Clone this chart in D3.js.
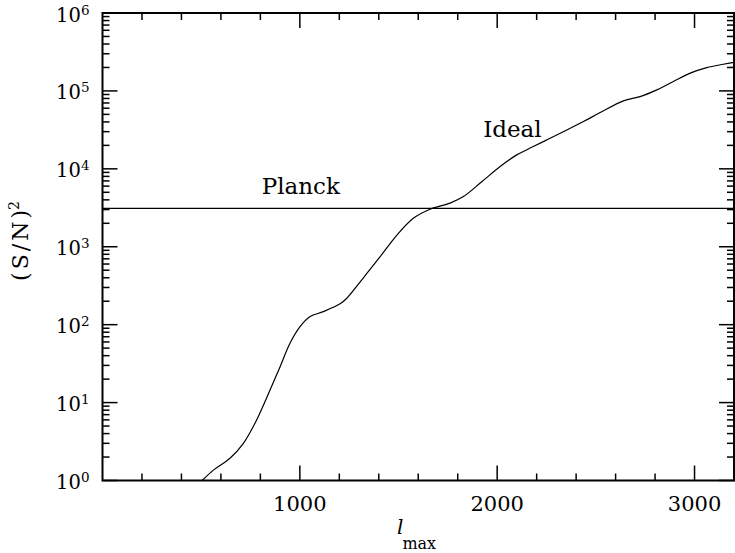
<!DOCTYPE html>
<html>
<head>
<meta charset="utf-8">
<script src="https://cdn.jsdelivr.net/npm/d3@7"></script>
<style>
  body { margin: 0; background: #fff; }
  text { font-family: "DejaVu Serif", serif; fill: #000; }
</style>
</head>
<body>
<svg id="chart"></svg>
<script>
const lmax = [505, 562, 646, 714, 781, 849, 900, 950, 1001, 1052, 1119, 1204, 1238, 1322, 1406, 1491, 1575, 1660, 1761, 1829, 1920, 2015, 2099, 2183, 2268, 2353, 2437, 2522, 2640, 2724, 2809, 2893, 2978, 3062, 3146, 3200];
const snrIdeal = [1, 1.36, 1.93, 3.0, 5.98, 14.5, 28.9, 57.7, 94.2, 127, 147, 185, 218, 400, 740, 1400, 2320, 3030, 3630, 4400, 6760, 10700, 15100, 19300, 24700, 31500, 40400, 52700, 74500, 84500, 103000, 132000, 169000, 199000, 220000, 233000];
const planckLevel = 3100;

const xDomain = [0, 3200];
const xMajorTicks = [1000, 2000, 3000];
const xMinorStep = 200;
const yDecades = [0, 1, 2, 3, 4, 5, 6];

// label anchors in data units
const planckLabel = { text: 'Planck', l: 807, v: 4720 };
const idealLabel = { text: 'Ideal', l: 1929, v: 25900 };

class SnrPlot {
    constructor(_config) {
        this.config = {
            parentElement: _config.parentElement,
            containerWidth: _config.containerWidth || 735,
            containerHeight: _config.containerHeight || 553,
            margin: { top: 13, bottom: 72.5, right: 1, left: 102.5 }
        }
        this.initVis();
    }

    initVis() {
        let vis = this;
        const m = vis.config.margin;
        vis.width = vis.config.containerWidth - m.left - m.right;
        vis.height = vis.config.containerHeight - m.top - m.bottom;

        vis.svg = d3.select(vis.config.parentElement)
            .attr('width', vis.config.containerWidth)
            .attr('height', vis.config.containerHeight);

        vis.chart = vis.svg.append('g')
            .attr('transform', `translate(${m.left},${m.top})`);

        vis.x = d3.scaleLinear().domain(xDomain).range([0, vis.width]);
        vis.y = d3.scaleLog().domain([1, 1e6]).range([vis.height, 0]);

        vis.svg.append('defs').append('clipPath').attr('id', 'plotclip')
            .append('rect').attr('width', vis.width).attr('height', vis.height);

        vis.updateVis();
    }

    updateVis() {
        let vis = this;
        const W = vis.width, H = vis.height;
        const majorLen = 15, minorLen = 7;

        // x ticks: minor every 200, major at the labelled ones
        const xTicks = d3.range(xMinorStep, xDomain[1], xMinorStep);
        const xt = vis.chart.append('g').attr('stroke', '#000').attr('stroke-width', 1.5);
        xTicks.forEach(v => {
            const len = xMajorTicks.includes(v) ? majorLen : minorLen;
            const px = vis.x(v);
            xt.append('line').attr('x1', px).attr('x2', px).attr('y1', H).attr('y2', H - len);
            xt.append('line').attr('x1', px).attr('x2', px).attr('y1', 0).attr('y2', len);
        });

        // y ticks: decades major, 2..9 minor
        const yt = vis.chart.append('g').attr('stroke', '#000').attr('stroke-width', 1.5);
        yDecades.forEach(d => {
            const base = Math.pow(10, d);
            const py = vis.y(base);
            yt.append('line').attr('x1', 0).attr('x2', majorLen).attr('y1', py).attr('y2', py);
            yt.append('line').attr('x1', W).attr('x2', W - majorLen).attr('y1', py).attr('y2', py);
            if (d < 6) {
                for (let k = 2; k <= 9; k++) {
                    const pm = vis.y(base * k);
                    yt.append('line').attr('x1', 0).attr('x2', minorLen).attr('y1', pm).attr('y2', pm);
                    yt.append('line').attr('x1', W).attr('x2', W - minorLen).attr('y1', pm).attr('y2', pm);
                }
            }
        });

        // frame
        vis.chart.append('rect')
            .attr('width', W).attr('height', H)
            .attr('fill', 'none').attr('stroke', '#000').attr('stroke-width', 2);

        // x tick labels
        vis.chart.selectAll('.xlab')
            .data(xMajorTicks)
            .join('text')
            .attr('class', 'xlab')
            .attr('x', d => vis.x(d))
            .attr('y', H + 30)
            .attr('text-anchor', 'middle')
            .style('font-size', '21px')
            .text(d => d);

        // y tick labels 10^n
        const ylab = vis.chart.selectAll('.ylab')
            .data(yDecades)
            .join('text')
            .attr('class', 'ylab')
            .attr('x', -13)
            .attr('y', d => vis.y(Math.pow(10, d)) + 8.5)
            .attr('text-anchor', 'end')
            .style('font-size', '19.5px');
        ylab.append('tspan').text('10');
        ylab.append('tspan').attr('dy', -7).style('font-size', '13.5px').text(d => d);

        // planck level
        vis.chart.append('line')
            .attr('x1', 0).attr('x2', W)
            .attr('y1', vis.y(planckLevel)).attr('y2', vis.y(planckLevel))
            .attr('stroke', '#000').attr('stroke-width', 1.3);

        // ideal curve
        const line = d3.line()
            .x(d => vis.x(d[0]))
            .y(d => vis.y(d[1]))
            .curve(d3.curveCatmullRom.alpha(0.5));
        vis.chart.append('path')
            .datum(d3.zip(lmax, snrIdeal))
            .attr('clip-path', 'url(#plotclip)')
            .attr('d', line)
            .attr('fill', 'none')
            .attr('stroke', '#000')
            .attr('stroke-width', 1.2);

        // annotations
        [planckLabel, idealLabel].forEach(lb => {
            vis.chart.append('text')
                .attr('x', vis.x(lb.l))
                .attr('y', vis.y(lb.v))
                .style('font-size', '23px')
                .text(lb.text);
        });

        // axis titles
        const xt2 = vis.svg.append('text')
            .attr('x', 397)
            .attr('y', 534)
            .style('font-size', '20px');
        xt2.append('tspan').style('font-style', 'italic').text('l');
        xt2.append('tspan').attr('dx', -1).attr('dy', 15).style('font-size', '16px').text('max');

        const yt2 = vis.svg.append('text')
            .attr('transform', 'translate(28,241) rotate(-90)')
            .attr('text-anchor', 'middle')
            .style('font-size', '22px');
        yt2.append('tspan').style('letter-spacing', '3px').text('(S/N')
        yt2.append('tspan').text(')');
        yt2.append('tspan').attr('dy', -9).style('font-size', '14px').text('2');
    }
}

new SnrPlot({ parentElement: '#chart' });
</script>
</body>
</html>
